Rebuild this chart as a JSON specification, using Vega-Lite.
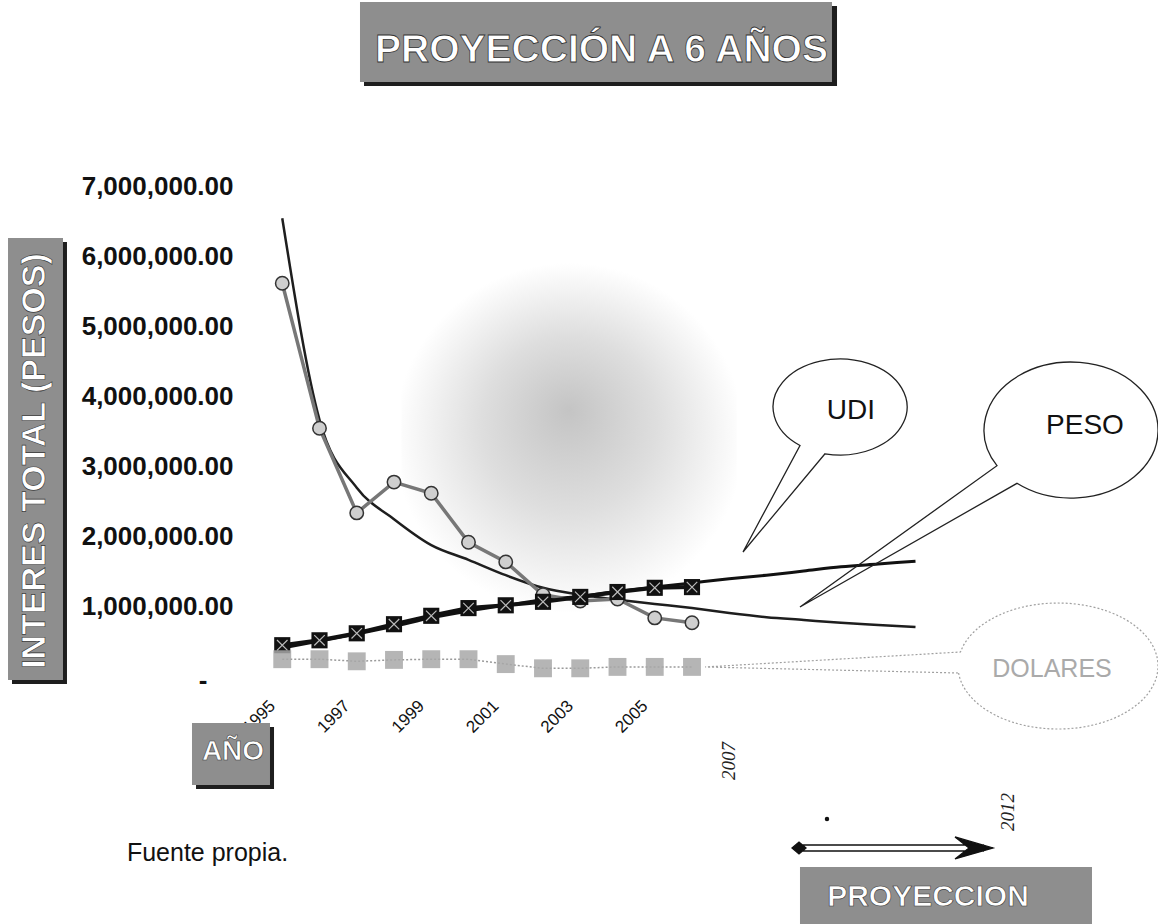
{
  "$schema": "https://vega.github.io/schema/vega-lite/v6.json",
  "width": 745,
  "height": 490,
  "autosize": {"type": "none"},
  "padding": {"left": 245, "top": 186, "right": 168, "bottom": 248},
  "background": "white",
  "config": {"view": {"stroke": null}, "axis": {"grid": false, "domain": false, "ticks": false}},
  "datasets": {
    "series": [
      {"year": 1995, "value": 5610000, "serie": "PESO"},
      {"year": 1996, "value": 3540000, "serie": "PESO"},
      {"year": 1997, "value": 2330000, "serie": "PESO"},
      {"year": 1998, "value": 2770000, "serie": "PESO"},
      {"year": 1999, "value": 2610000, "serie": "PESO"},
      {"year": 2000, "value": 1910000, "serie": "PESO"},
      {"year": 2001, "value": 1630000, "serie": "PESO"},
      {"year": 2002, "value": 1160000, "serie": "PESO"},
      {"year": 2003, "value": 1070000, "serie": "PESO"},
      {"year": 2004, "value": 1100000, "serie": "PESO"},
      {"year": 2005, "value": 830000, "serie": "PESO"},
      {"year": 2006, "value": 760000, "serie": "PESO"},
      {"year": 1995, "value": 440000, "serie": "UDI"},
      {"year": 1996, "value": 510000, "serie": "UDI"},
      {"year": 1997, "value": 610000, "serie": "UDI"},
      {"year": 1998, "value": 740000, "serie": "UDI"},
      {"year": 1999, "value": 860000, "serie": "UDI"},
      {"year": 2000, "value": 970000, "serie": "UDI"},
      {"year": 2001, "value": 1010000, "serie": "UDI"},
      {"year": 2002, "value": 1060000, "serie": "UDI"},
      {"year": 2003, "value": 1130000, "serie": "UDI"},
      {"year": 2004, "value": 1200000, "serie": "UDI"},
      {"year": 2005, "value": 1260000, "serie": "UDI"},
      {"year": 2006, "value": 1270000, "serie": "UDI"},
      {"year": 1995, "value": 240000, "serie": "DOLARES"},
      {"year": 1996, "value": 240000, "serie": "DOLARES"},
      {"year": 1997, "value": 210000, "serie": "DOLARES"},
      {"year": 1998, "value": 230000, "serie": "DOLARES"},
      {"year": 1999, "value": 240000, "serie": "DOLARES"},
      {"year": 2000, "value": 240000, "serie": "DOLARES"},
      {"year": 2001, "value": 170000, "serie": "DOLARES"},
      {"year": 2002, "value": 110000, "serie": "DOLARES"},
      {"year": 2003, "value": 110000, "serie": "DOLARES"},
      {"year": 2004, "value": 130000, "serie": "DOLARES"},
      {"year": 2005, "value": 130000, "serie": "DOLARES"},
      {"year": 2006, "value": 130000, "serie": "DOLARES"},
      {"year": 1995, "value": 6540000, "serie": "PESO_tend"},
      {"year": 1996, "value": 3660000, "serie": "PESO_tend"},
      {"year": 1997, "value": 2690000, "serie": "PESO_tend"},
      {"year": 1998, "value": 2240000, "serie": "PESO_tend"},
      {"year": 1999, "value": 1870000, "serie": "PESO_tend"},
      {"year": 2000, "value": 1660000, "serie": "PESO_tend"},
      {"year": 2001, "value": 1440000, "serie": "PESO_tend"},
      {"year": 2002, "value": 1260000, "serie": "PESO_tend"},
      {"year": 2003, "value": 1160000, "serie": "PESO_tend"},
      {"year": 2004, "value": 1090000, "serie": "PESO_tend"},
      {"year": 2005, "value": 1030000, "serie": "PESO_tend"},
      {"year": 2006, "value": 970000, "serie": "PESO_tend"},
      {"year": 2007, "value": 900000, "serie": "PESO_tend"},
      {"year": 2008, "value": 840000, "serie": "PESO_tend"},
      {"year": 2009, "value": 800000, "serie": "PESO_tend"},
      {"year": 2010, "value": 760000, "serie": "PESO_tend"},
      {"year": 2011, "value": 730000, "serie": "PESO_tend"},
      {"year": 2012, "value": 700000, "serie": "PESO_tend"},
      {"year": 1995, "value": 400000, "serie": "UDI_tend"},
      {"year": 1996, "value": 500000, "serie": "UDI_tend"},
      {"year": 1997, "value": 600000, "serie": "UDI_tend"},
      {"year": 1998, "value": 710000, "serie": "UDI_tend"},
      {"year": 1999, "value": 830000, "serie": "UDI_tend"},
      {"year": 2000, "value": 930000, "serie": "UDI_tend"},
      {"year": 2001, "value": 1010000, "serie": "UDI_tend"},
      {"year": 2002, "value": 1090000, "serie": "UDI_tend"},
      {"year": 2003, "value": 1140000, "serie": "UDI_tend"},
      {"year": 2004, "value": 1210000, "serie": "UDI_tend"},
      {"year": 2005, "value": 1270000, "serie": "UDI_tend"},
      {"year": 2006, "value": 1330000, "serie": "UDI_tend"},
      {"year": 2007, "value": 1390000, "serie": "UDI_tend"},
      {"year": 2008, "value": 1440000, "serie": "UDI_tend"},
      {"year": 2009, "value": 1500000, "serie": "UDI_tend"},
      {"year": 2010, "value": 1560000, "serie": "UDI_tend"},
      {"year": 2011, "value": 1600000, "serie": "UDI_tend"},
      {"year": 2012, "value": 1640000, "serie": "UDI_tend"}
    ],
    "notes": [
      {"id": "blob", "year": 1998.2, "value": 5900000, "year2": 2007.2, "value2": 900000},
      {"id": "title_shadow", "year": 1997.195, "value": 9571000, "year2": 2009.893, "value2": 8429000},
      {"id": "title_box", "year": 1997.087, "value": 9629000, "year2": 2009.758, "value2": 8486000},
      {"id": "ytitle_shadow", "year": 1987.745, "value": 6200000, "year2": 1989.221, "value2": -114000},
      {"id": "ytitle_box", "year": 1987.638, "value": 6257000, "year2": 1989.114, "value2": -57000},
      {"id": "ano_shadow", "year": 1992.685, "value": -729000, "year2": 1994.779, "value2": -1614000},
      {"id": "ano_box", "year": 1992.577, "value": -671000, "year2": 1994.671, "value2": -1557000},
      {"id": "proy_box", "year": 2008.899, "value": -2729000, "year2": 2016.738, "value2": -3629000},
      {"id": "title", "year": 2003.57, "value": 8943000, "label": "PROYECCIÓN A 6 AÑOS"},
      {"id": "ytitle", "year": 1988.362, "value": 3071000, "label": "INTERES TOTAL (PESOS)"},
      {"id": "ano", "year": 1993.678, "value": -1086000, "label": "AÑO"},
      {"id": "proy", "year": 2012.336, "value": -3157000, "label": "PROYECCION"},
      {"id": "udi_bal", "year": 2009.973, "value": 3843000},
      {"id": "peso_bal", "year": 2016.174, "value": 3514000},
      {"id": "dol_bal", "year": 2015.826, "value": 143000},
      {"id": "udi_txt", "year": 2010.268, "value": 3786000, "label": "UDI"},
      {"id": "peso_txt", "year": 2016.55, "value": 3571000, "label": "PESO"},
      {"id": "dol_txt", "year": 2015.664, "value": 100000, "label": "DOLARES"},
      {"id": "y2007", "year": 2007, "value": -1214000, "label": "2007"},
      {"id": "y2012", "year": 2014.48, "value": -1943000, "label": "2012"},
      {"id": "arrow", "year": 2011.423, "value": -2457000},
      {"id": "dot", "year": 2009.624, "value": -2043000},
      {"id": "zero", "year": 1992.872, "value": -70000, "label": "-"},
      {"id": "fuente", "year": 1990.83, "value": -2529000, "label": "Fuente propia."}
    ]
  },
  "encoding": {
    "x": {
      "field": "year", "type": "quantitative",
      "scale": {"domain": [1994, 2014], "nice": false, "zero": false},
      "axis": {"values": [1995, 1997, 1999, 2001, 2003, 2005], "format": "d", "labelAngle": -45, "labelAlign": "right", "labelBaseline": "middle", "labelPadding": 27, "labelOffset": -10, "labelFont": "Liberation Sans", "labelFontSize": 17, "labelColor": "#111111", "title": null, "labelOverlap": false, "labelFlush": false}
    },
    "y": {
      "field": "value", "type": "quantitative",
      "scale": {"domain": [0, 7000000], "nice": false},
      "axis": {"values": [1000000, 2000000, 3000000, 4000000, 5000000, 6000000, 7000000], "format": ",.2f", "labelFont": "Liberation Sans", "labelFontSize": 26, "labelFontWeight": "bold", "labelColor": "#111111", "labelPadding": 12, "title": null, "labelFlush": false, "labelOverlap": false}
    }
  },
  "layer": [
    {"data": {"name": "notes"}, "transform": [{"filter": "datum.id == 'blob'"}],
     "mark": {"type": "rect", "fill": {"gradient": "radial", "x1": 0.5, "y1": 0.42, "r1": 0, "x2": 0.5, "y2": 0.5, "r2": 0.5, "stops": [{"offset": 0, "color": "#c4c4c4"}, {"offset": 0.5, "color": "#dedede"}, {"offset": 1, "color": "#ffffff"}]}},
     "encoding": {"x2": {"field": "year2"}, "y2": {"field": "value2"}}},
    {"data": {"name": "series"}, "transform": [{"filter": "datum.serie == 'DOLARES'"}],
     "mark": {"type": "line", "color": "#9a9a9a", "strokeWidth": 1.5, "strokeDash": [2, 2]}},
    {"data": {"name": "series"}, "transform": [{"filter": "datum.serie == 'PESO_tend'"}],
     "mark": {"type": "line", "color": "#1e1e1e", "strokeWidth": 2.5, "interpolate": "monotone"}},
    {"data": {"name": "series"}, "transform": [{"filter": "datum.serie == 'UDI_tend'"}],
     "mark": {"type": "line", "color": "#111111", "strokeWidth": 3, "interpolate": "monotone"}},
    {"data": {"name": "series"}, "transform": [{"filter": "datum.serie == 'PESO'"}],
     "mark": {"type": "line", "color": "#777777", "strokeWidth": 3.5}},
    {"data": {"name": "series"}, "transform": [{"filter": "datum.serie == 'PESO'"}],
     "mark": {"type": "point", "shape": "circle", "filled": true, "size": 180, "fill": "#cfcfcf", "stroke": "#333333", "strokeWidth": 1.5, "opacity": 1}},
    {"data": {"name": "series"}, "transform": [{"filter": "datum.serie == 'UDI'"}],
     "mark": {"type": "line", "color": "#111111", "strokeWidth": 4}},
    {"data": {"name": "series"}, "transform": [{"filter": "datum.serie == 'UDI'"}],
     "mark": {"type": "point", "shape": "square", "filled": true, "size": 260, "color": "#111111", "opacity": 1}},
    {"data": {"name": "series"}, "transform": [{"filter": "datum.serie == 'UDI'"}],
     "mark": {"type": "point", "shape": "M-1,-1L1,1M1,-1L-1,1", "filled": false, "size": 110, "stroke": "#bbbbbb", "strokeWidth": 1.2, "opacity": 1}},
    {"data": {"name": "series"}, "transform": [{"filter": "datum.serie == 'DOLARES'"}],
     "mark": {"type": "point", "shape": "square", "filled": true, "size": 320, "color": "#a8a8a8", "opacity": 0.85}},
    {"data": {"name": "notes"}, "transform": [{"filter": "datum.id == 'udi_bal'"}],
     "mark": {"type": "point", "shape": "M-0.15,0.468A0.67,0.48,0,1,0,-0.4,0.385L-0.97,1.45Z", "filled": false, "size": 40000, "stroke": "#222222", "strokeWidth": 1.3, "opacity": 1}},
    {"data": {"name": "notes"}, "transform": [{"filter": "datum.id == 'peso_bal'"}],
     "mark": {"type": "point", "shape": "M-0.54,0.533A0.87,0.68,0,1,0,-0.74,0.357L-2.71,1.77Z", "filled": false, "size": 40000, "stroke": "#222222", "strokeWidth": 1.3, "opacity": 1}},
    {"data": {"name": "notes"}, "transform": [{"filter": "datum.id == 'dol_bal'"}],
     "mark": {"type": "point", "shape": "M-0.994,0.07A1,0.63,0,1,0,-0.975,-0.14L-3.53,0.01Z", "filled": false, "size": 40000, "stroke": "#a0a0a0", "strokeWidth": 1.2, "strokeDash": [2, 2], "opacity": 1}},
    {"data": {"name": "notes"}, "transform": [{"filter": "datum.id == 'udi_txt' || datum.id == 'peso_txt'"}],
     "mark": {"type": "text", "font": "Liberation Sans", "fontSize": 28, "color": "#111111", "align": "center", "baseline": "middle"},
     "encoding": {"text": {"field": "label"}}},
    {"data": {"name": "notes"}, "transform": [{"filter": "datum.id == 'dol_txt'"}],
     "mark": {"type": "text", "font": "Liberation Sans", "fontSize": 25, "color": "#aaaaaa", "align": "center", "baseline": "middle"},
     "encoding": {"text": {"field": "label"}}},
    {"data": {"name": "notes"}, "transform": [{"filter": "datum.id == 'arrow'"}],
     "mark": {"type": "point", "shape": "M-0.95,-0.03L0.9,-0.03M-0.95,0.03L0.9,0.03M0.61,-0.11L0.99,0L0.61,0.11L0.75,0ZM-1.02,0L-0.95,-0.06L-0.88,0L-0.95,0.06Z", "filled": true, "size": 40000, "fill": "#111111", "stroke": "#111111", "strokeWidth": 1.3, "opacity": 1}},
    {"data": {"name": "notes"}, "transform": [{"filter": "datum.id == 'dot'"}],
     "mark": {"type": "point", "shape": "circle", "filled": true, "size": 20, "color": "#111111", "opacity": 1}},
    {"data": {"name": "notes"}, "transform": [{"filter": "datum.id == 'zero'"}],
     "mark": {"type": "text", "font": "Liberation Sans", "fontSize": 26, "fontWeight": "bold", "color": "#111111", "align": "center", "baseline": "middle"},
     "encoding": {"text": {"field": "label"}}},
    {"data": {"name": "notes"}, "transform": [{"filter": "indexof(datum.id, '_shadow') > 0"}],
     "mark": {"type": "rect", "fill": "#1e1e1e"},
     "encoding": {"x2": {"field": "year2"}, "y2": {"field": "value2"}}},
    {"data": {"name": "notes"}, "transform": [{"filter": "indexof(datum.id, '_box') > 0"}],
     "mark": {"type": "rect", "fill": "#8e8e8e"},
     "encoding": {"x2": {"field": "year2"}, "y2": {"field": "value2"}}},
    {"data": {"name": "notes"}, "transform": [{"filter": "datum.id == 'title'"}],
     "mark": {"type": "text", "font": "Liberation Sans", "fontSize": 39, "fontWeight": "bold", "fill": "#ffffff", "stroke": "#333333", "strokeWidth": 0.8, "align": "center", "baseline": "middle"},
     "encoding": {"text": {"field": "label"}}},
    {"data": {"name": "notes"}, "transform": [{"filter": "datum.id == 'ytitle'"}],
     "mark": {"type": "text", "font": "Liberation Sans", "fontSize": 34, "fontWeight": "bold", "fill": "#ffffff", "stroke": "#333333", "strokeWidth": 0.6, "angle": 270, "align": "center", "baseline": "middle"},
     "encoding": {"text": {"field": "label"}}},
    {"data": {"name": "notes"}, "transform": [{"filter": "datum.id == 'ano'"}],
     "mark": {"type": "text", "font": "Liberation Sans", "fontSize": 28, "fontWeight": "bold", "fill": "#ffffff", "stroke": "#333333", "strokeWidth": 0.6, "align": "center", "baseline": "middle"},
     "encoding": {"text": {"field": "label"}}},
    {"data": {"name": "notes"}, "transform": [{"filter": "datum.id == 'proy'"}],
     "mark": {"type": "text", "font": "Liberation Sans", "fontSize": 30, "fontWeight": "bold", "fill": "#ffffff", "stroke": "#333333", "strokeWidth": 0.6, "align": "center", "baseline": "middle"},
     "encoding": {"text": {"field": "label"}}},
    {"data": {"name": "notes"}, "transform": [{"filter": "datum.id == 'y2007' || datum.id == 'y2012'"}],
     "mark": {"type": "text", "font": "Liberation Serif", "fontSize": 19, "fontStyle": "italic", "color": "#222222", "angle": 270, "align": "center", "baseline": "middle"},
     "encoding": {"text": {"field": "label"}}},
    {"data": {"name": "notes"}, "transform": [{"filter": "datum.id == 'fuente'"}],
     "mark": {"type": "text", "font": "Liberation Sans", "fontSize": 25, "color": "#111111", "align": "left", "baseline": "middle"},
     "encoding": {"text": {"field": "label"}}}
  ]
}
